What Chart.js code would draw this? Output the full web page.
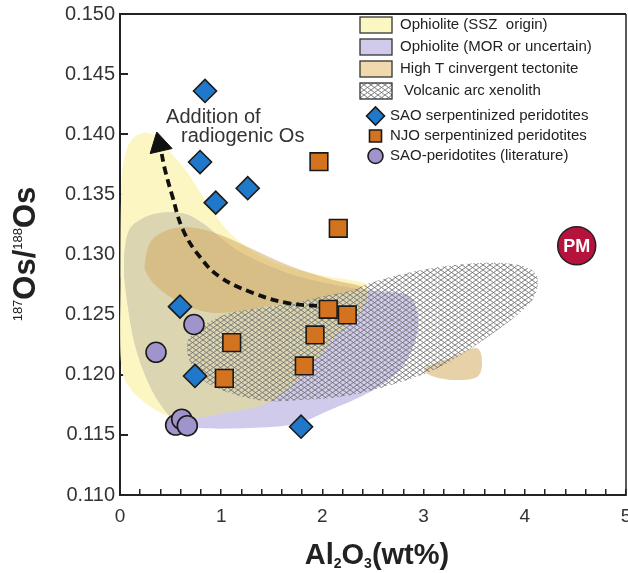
<!DOCTYPE html>
<html lang="en">
<head>
<meta charset="UTF-8">
<script src="https://cdn.jsdelivr.net/npm/chart.js"></script>
<title>187Os/188Os vs Al2O3</title>
<style>
  html, body { margin: 0; padding: 0; background: #fff; }
</style>
</head>
<body>
<canvas id="grafico" width="628" height="573"></canvas>

<script>
// samples: Al2O3 (wt%) and 187Os/188Os
const saoSerpAl = [0.840, 0.791, 0.946, 1.262, 0.593, 0.741, 1.789]
const saoSerpOs = [0.1436, 0.13769, 0.13431, 0.13551, 0.12566, 0.1199, 0.11568]

const njoSerpAl = [1.966, 2.157, 2.058, 2.246, 1.927, 1.104, 1.821, 1.031]
const njoSerpOs = [0.13772, 0.13218, 0.12544, 0.12497, 0.12331, 0.12267, 0.12073, 0.1197]

const saoLitAl = [0.731, 0.356, 0.550, 0.610, 0.665]
const saoLitOs = [0.12418, 0.12187, 0.11582, 0.1163, 0.11576]

const pmAl = [4.513]
const pmOs = [0.13073]

// dashed trend "addition of radiogenic Os"
const arrowAl = [1.947, 1.650, 1.314, 0.988, 0.791, 0.623, 0.514, 0.445, 0.405]
const arrowOs = [0.12572, 0.12597, 0.1268, 0.12813, 0.12979, 0.13204, 0.13495, 0.13703, 0.13869]
const arrowTipAl = [0.392]
const arrowTipOs = [0.13913]

// field outlines [Al2O3, Os]
const campoSSZ = [[0.010,0.13453],[0.030,0.13744],[0.099,0.13936],[0.227,0.14010],[0.346,0.13985],[0.494,0.13852],
  [0.662,0.13686],[0.860,0.13428],[1.087,0.13179],[1.383,0.12988],[1.680,0.12888],[2.026,0.12821],[2.322,0.12780],
  [2.451,0.12730],[2.391,0.12538],[2.125,0.12314],[1.848,0.12040],[1.482,0.11773],[0.988,0.11674],[0.573,0.11624],
  [0.445,0.11665],[0.277,0.11748],[0.099,0.11890],[0.010,0.12106],[0.005,0.12788]]

const campoMOR = [[0.079,0.13179],[0.198,0.13287],[0.395,0.13345],[0.642,0.13337],[0.840,0.13245],[1.186,0.13021],
  [1.680,0.12838],[2.174,0.12738],[2.520,0.12696],[2.767,0.12680],[2.895,0.12622],[2.945,0.12455],[2.905,0.12247],
  [2.747,0.12023],[2.470,0.11857],[2.075,0.11707],[1.729,0.11590],[1.285,0.11557],[0.791,0.11557],[0.573,0.11607],
  [0.425,0.11724],[0.277,0.11940],[0.148,0.12247],[0.069,0.12622],[0.040,0.12913]]

const campoAltaT = [[0.247,0.12938],[0.296,0.13096],[0.425,0.13187],[0.642,0.13229],[0.939,0.13179],[1.285,0.13054],
  [1.680,0.12904],[2.075,0.12796],[2.391,0.12730],[2.223,0.12680],[2.075,0.12655],[1.779,0.12605],[1.482,0.12572],
  [1.186,0.12530],[0.939,0.12514],[0.741,0.12547],[0.514,0.12638],[0.346,0.12746],[0.257,0.12854]]

const campoAltaT2 = [[3.014,0.12056],[3.261,0.12139],[3.518,0.12222],[3.577,0.12106],[3.528,0.11981],[3.310,0.11956],[3.083,0.11990]]

const campoXeno = [[0.662,0.12247],[0.711,0.12331],[0.860,0.12430],[1.087,0.12514],[1.383,0.12555],[1.709,0.12597],
  [1.976,0.12647],[2.302,0.12705],[2.500,0.12771],[2.836,0.12846],[3.162,0.12896],[3.557,0.12929],[3.883,0.12921],
  [4.081,0.12863],[4.130,0.12771],[4.091,0.12647],[4.002,0.12555],[3.824,0.12430],[3.488,0.12231],[3.162,0.12064],
  [2.836,0.11956],[2.500,0.11873],[2.174,0.11815],[1.779,0.11790],[1.433,0.11782],[1.087,0.11848],[0.820,0.11956],
  [0.692,0.12106]]

const anotacao = [['Addition of', 0.455, 0.14094], ['radiogenic Os', 0.603, 0.13936]]

const fonte = "'Liberation Sans', Arial, sans-serif"
Chart.defaults.font.family = fonte

const ctx = document.getElementById('grafico').getContext('2d')

function pts(xs, ys) {
  return xs.map((x, i) => ({ x: x, y: ys[i] }))
}

function malha() {
  const t = document.createElement('canvas')
  t.width = 7
  t.height = 5
  const g = t.getContext('2d')
  g.strokeStyle = '#707070'
  g.lineWidth = 0.9
  g.beginPath()
  g.moveTo(0, 0); g.lineTo(7, 5)
  g.moveTo(0, 5); g.lineTo(7, 0)
  g.stroke()
  return ctx.createPattern(t, 'repeat')
}
const hachura = malha()

// closed smooth outline through the points
function contorno(c, p) {
  const n = p.length
  c.beginPath()
  c.moveTo(p[0][0], p[0][1])
  for (let i = 0; i < n; i++) {
    const a = p[(i - 1 + n) % n], b = p[i], d = p[(i + 1) % n], e = p[(i + 2) % n]
    c.bezierCurveTo(b[0] + (d[0] - a[0]) / 6, b[1] + (d[1] - a[1]) / 6,
      d[0] - (e[0] - b[0]) / 6, d[1] - (e[1] - b[1]) / 6, d[0], d[1])
  }
  c.closePath()
}

const campos = {
  id: 'campos',
  beforeDatasetsDraw(chart) {
    const c = chart.ctx, a = chart.chartArea
    const sx = chart.scales.x, sy = chart.scales.y
    const px = f => f.map(p => [sx.getPixelForValue(p[0]), sy.getPixelForValue(p[1])])
    c.save()
    c.beginPath()
    c.rect(a.left, a.top, a.right - a.left, a.bottom - a.top)
    c.clip()

    contorno(c, px(campoSSZ)); c.fillStyle = '#fcf6c2'; c.fill()
    contorno(c, px(campoMOR)); c.fillStyle = '#d0cbeb'; c.fill()

    c.save()
    contorno(c, px(campoSSZ)); c.clip()
    contorno(c, px(campoMOR)); c.fillStyle = '#dbd5b1'; c.fill()
    c.restore()

    c.fillStyle = 'rgba(212,172,98,0.55)'
    contorno(c, px(campoAltaT)); c.fill()
    contorno(c, px(campoAltaT2)); c.fill()

    contorno(c, px(campoXeno)); c.fillStyle = hachura; c.fill()
    c.restore()
  },
  afterDatasetsDraw(chart) {
    const c = chart.ctx, a = chart.chartArea
    const sx = chart.scales.x, sy = chart.scales.y
    c.save()
    // frame top / right
    c.strokeStyle = '#222'
    c.lineWidth = 2
    c.beginPath()
    c.moveTo(a.left, a.top); c.lineTo(a.right, a.top)
    c.stroke()
    c.lineWidth = 1.5
    c.beginPath()
    c.moveTo(a.right, a.top); c.lineTo(a.right, a.bottom)
    c.stroke()

    // PM label
    const pm = chart.getDatasetMeta(0).data[0]
    c.fillStyle = '#fff'
    c.font = 'bold 18px ' + fonte
    c.textAlign = 'center'
    c.textBaseline = 'middle'
    c.fillText('PM', pm.x, pm.y + 1)

    // annotation
    c.fillStyle = '#333'
    c.font = '20px ' + fonte
    c.textAlign = 'left'
    c.textBaseline = 'alphabetic'
    anotacao.forEach(t => c.fillText(t[0], sx.getPixelForValue(t[1]), sy.getPixelForValue(t[2])))
    c.restore()
  },
  afterDraw(chart) {
    const c = chart.ctx
    c.save()
    // legend
    const caixas = [
      ['#fcf6c2', 'Ophiolite (SSZ  origin)', 400],
      ['#d0cbeb', 'Ophiolite (MOR or uncertain)', 400],
      ['#f0d9ad', 'High T cinvergent tectonite', 400],
      [hachura, 'Volcanic arc xenolith', 404]
    ]
    c.font = '15px ' + fonte
    c.textBaseline = 'middle'
    caixas.forEach((b, i) => {
      const y = 17 + i * 22
      c.fillStyle = '#fff'
      c.fillRect(360, y, 32, 16)
      c.fillStyle = b[0]
      c.fillRect(360, y, 32, 16)
      c.strokeStyle = '#333'
      c.lineWidth = 1.3
      c.strokeRect(360, y, 32, 16)
      c.fillStyle = '#222'
      c.fillText(b[1], b[2], y + 8)
    })
    const marcas = [
      ['rectRot', 9, '#1f78c9', 'SAO serpentinized peridotites', 116],
      ['rect', 8.5, '#d4731f', 'NJO serpentinized peridotites', 136],
      ['circle', 7.5, '#a194cd', 'SAO-peridotites (literature)', 156]
    ]
    marcas.forEach(m => {
      c.fillStyle = m[2]
      c.strokeStyle = '#1a1a1a'
      c.lineWidth = 1.6
      Chart.helpers.drawPoint(c, { pointStyle: m[0], radius: m[1], rotation: 0, borderWidth: 1.6 }, 375.5, m[4])
      c.fillStyle = '#222'
      c.fillText(m[3], 390, m[4])
    })

    // y title 187Os/188Os
    c.translate(35, 254)
    c.rotate(-Math.PI / 2)
    const partes = [['187', true], ['Os/', false], ['188', true], ['Os', false]]
    const fGrande = 'bold 31px ' + fonte, fPeq = '13px ' + fonte
    let total = 0
    partes.forEach(p => { c.font = p[1] ? fPeq : fGrande; total += c.measureText(p[0]).width })
    let x = -total / 2
    c.fillStyle = '#222'
    c.textAlign = 'left'
    c.textBaseline = 'alphabetic'
    partes.forEach(p => {
      c.font = p[1] ? fPeq : fGrande
      c.fillText(p[0], x, p[1] ? -13 : 0)
      x += c.measureText(p[0]).width
    })
    c.restore()

    // x title Al2O3(wt%)
    c.save()
    const xt = [['Al', false], ['2', true], ['O', false], ['3', true], ['(wt%)', false]]
    const fx = 'bold 29px ' + fonte, fs = 'bold 14px ' + fonte
    let w = 0
    xt.forEach(p => { c.font = p[1] ? fs : fx; w += c.measureText(p[0]).width })
    let xx = 377 - w / 2
    c.fillStyle = '#222'
    c.textBaseline = 'alphabetic'
    xt.forEach(p => {
      c.font = p[1] ? fs : fx
      c.fillText(p[0], xx, p[1] ? 568 : 564)
      xx += c.measureText(p[0]).width
    })
    c.restore()
  }
}

new Chart(ctx, {
  type: 'scatter',
  data: {
    datasets: [
      { label: 'PM', data: pts(pmAl, pmOs), pointStyle: 'circle', pointRadius: 19,
        backgroundColor: '#b5123c', borderColor: '#222', borderWidth: 1.5 },
      { label: 'SAO-peridotites (literature)', data: pts(saoLitAl, saoLitOs), pointStyle: 'circle', pointRadius: 10,
        backgroundColor: '#a194cd', borderColor: '#1a1a1a', borderWidth: 1.6 },
      { label: 'NJO serpentinized peridotites', data: pts(njoSerpAl, njoSerpOs), pointStyle: 'rect', pointRadius: 12.5,
        backgroundColor: '#d4731f', borderColor: '#1a1a1a', borderWidth: 1.6 },
      { label: 'SAO serpentinized peridotites', data: pts(saoSerpAl, saoSerpOs), pointStyle: 'rectRot', pointRadius: 11.5,
        backgroundColor: '#1f78c9', borderColor: '#1a1a1a', borderWidth: 1.6 },
      { label: 'arrow head', data: pts(arrowTipAl, arrowTipOs), pointStyle: 'triangle', rotation: -13, pointRadius: 13,
        backgroundColor: '#111', borderColor: '#111', borderWidth: 1 },
      { label: 'arrow', data: pts(arrowAl, arrowOs), showLine: true, borderDash: [8, 5], borderWidth: 3.8,
        borderColor: '#111', pointRadius: 0, tension: 0.4, fill: false }
    ]
  },
  options: {
    responsive: false,
    devicePixelRatio: 1,
    animation: false,
    events: [],
    layout: { autoPadding: false, padding: { top: 14, right: 2, left: 0, bottom: 0 } },
    plugins: {
      legend: { display: false },
      tooltip: { enabled: false }
    },
    scales: {
      x: {
        type: 'linear',
        min: 0,
        max: 5,
        afterFit: s => { s.height = 78; s.paddingLeft = 0; s.paddingRight = 0 },
        border: { color: '#222', width: 2 },
        grid: { drawOnChartArea: false, drawTicks: true, tickLength: -6, color: '#222', lineWidth: 1.5 },
        ticks: {
          stepSize: 0.2,
          autoSkip: false,
          maxRotation: 0,
          padding: 16,
          color: '#333',
          font: { size: 19 },
          callback: v => Math.abs(v - Math.round(v)) < 1e-6 ? String(Math.round(v)) : ''
        }
      },
      y: {
        type: 'linear',
        min: 0.11,
        max: 0.15,
        afterFit: s => { s.width = 120; s.paddingTop = 0; s.paddingBottom = 0 },
        border: { color: '#222', width: 2 },
        grid: { drawOnChartArea: false, drawTicks: true, tickLength: -8, color: '#222', lineWidth: 2 },
        ticks: {
          stepSize: 0.005,
          padding: 13,
          color: '#333',
          font: { size: 20 },
          callback: v => v.toFixed(3)
        }
      }
    }
  },
  plugins: [campos]
})
</script>
</body>
</html>
